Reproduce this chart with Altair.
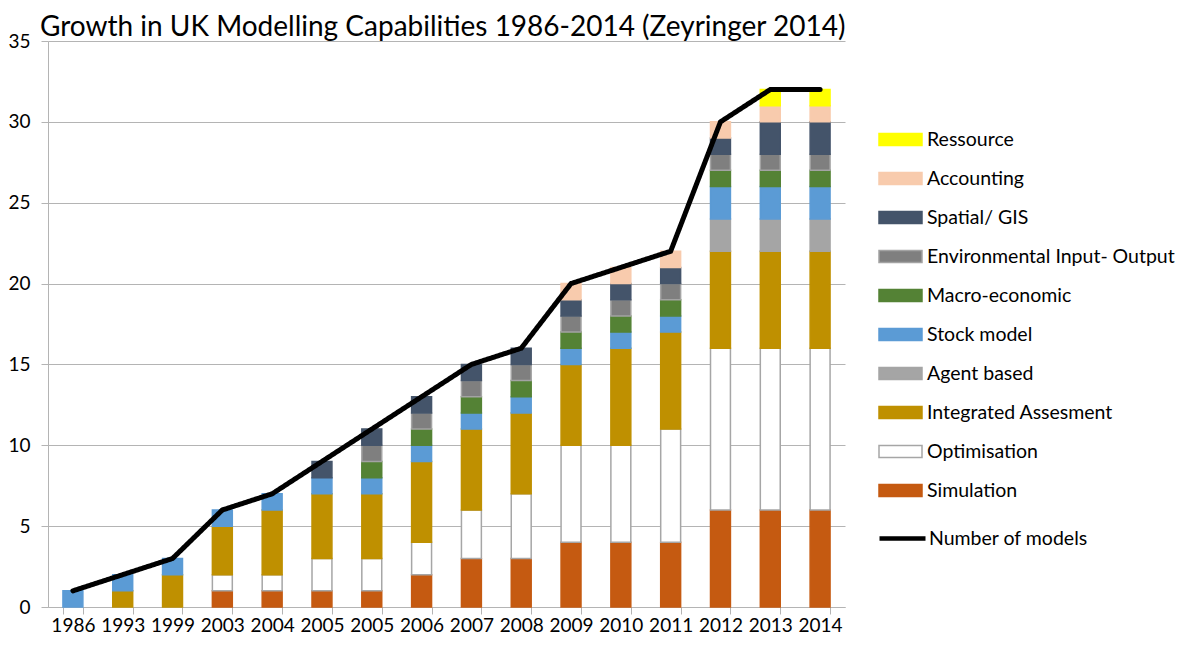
import altair as alt
import pandas as pd

TITLE = "Growth in UK Modelling Capabilities 1986-2014 (Zeyringer 2014)"

years = ["1986", "1993", "1999", "2003", "2004", "2005", "2005", "2006",
         "2007", "2008", "2009", "2010", "2011", "2012", "2013", "2014"]

# series, bottom of stack to top
simulation = [0, 0, 0, 1, 1, 1, 1, 2, 3, 3, 4, 4, 4, 6, 6, 6]
optimisation = [0, 0, 0, 1, 1, 2, 2, 2, 3, 4, 6, 6, 7, 10, 10, 10]
integrated = [0, 1, 2, 3, 4, 4, 4, 5, 5, 5, 5, 6, 6, 6, 6, 6]
agent_based = [0, 0, 0, 0, 0, 0, 0, 0, 0, 0, 0, 0, 0, 2, 2, 2]
stock_model = [1, 1, 1, 1, 1, 1, 1, 1, 1, 1, 1, 1, 1, 2, 2, 2]
macro_economic = [0, 0, 0, 0, 0, 0, 1, 1, 1, 1, 1, 1, 1, 1, 1, 1]
env_input_output = [0, 0, 0, 0, 0, 0, 1, 1, 1, 1, 1, 1, 1, 1, 1, 1]
spatial_gis = [0, 0, 0, 0, 0, 1, 1, 1, 1, 1, 1, 1, 1, 1, 2, 2]
accounting = [0, 0, 0, 0, 0, 0, 0, 0, 0, 0, 1, 1, 1, 1, 1, 1]
ressource = [0, 0, 0, 0, 0, 0, 0, 0, 0, 0, 0, 0, 0, 0, 1, 1]
number_of_models = [1, 2, 3, 6, 7, 9, 11, 13, 15, 16, 20, 21, 22, 30, 32, 32]

type_names = ["Simulation", "Optimisation", "Integrated Assesment", "Agent based",
              "Stock model", "Macro-economic", "Environmental Input- Output",
              "Spatial/ GIS", "Accounting", "Ressource"]
type_series = [simulation, optimisation, integrated, agent_based, stock_model,
               macro_economic, env_input_output, spatial_gis, accounting, ressource]
fill_colors = ["#C55A11", "#FFFFFF", "#BF9000", "#A5A5A5", "#5B9BD5",
               "#548235", "#7F7F7F", "#44546A", "#F8CBAD", "#FFFF00"]
stroke_colors = ["#C55A11", "#A6A6A6", "#BF9000", "#A5A5A5", "#5B9BD5",
                 "#548235", "#A3A3A3", "#44546A", "#F8CBAD", "#FFFF00"]

keys = [f"{y}#{i}" for i, y in enumerate(years)]

rows = []
for rank, (name, vals) in enumerate(zip(type_names, type_series)):
    for k, v in zip(keys, vals):
        if v > 0:
            rows.append({"key": k, "type": name, "rank": rank, "value": v})
bars_df = pd.DataFrame(rows)
line_df = pd.DataFrame({"key": keys, "models": number_of_models,
                        "series": "Number of models"})
title_df = pd.DataFrame({"title": [TITLE]})

legend_domain = type_names[::-1]
legend_fill = fill_colors[::-1]
legend_stroke = stroke_colors[::-1]

FONT = "Lato"
GRID = "#B4B4B4"

x_enc = alt.X(
    "key:N", sort=keys,
    scale=alt.Scale(paddingInner=0.6, paddingOuter=0.3),
    axis=alt.Axis(title=None, labelExpr="split(datum.label, '#')[0]", labelAngle=0,
                  tickBand="extent", tickSize=7, tickColor=GRID, domainColor=GRID,
                  labelPadding=2, labelFontSize=19, labelFont=FONT, labelColor="black",
                  grid=False),
)
y_enc = alt.Y(
    "value:Q", stack="zero",
    scale=alt.Scale(domain=[0, 35], nice=False),
    axis=alt.Axis(title=None, values=list(range(0, 36, 5)), tickSize=7, tickColor=GRID,
                  domainColor=GRID, gridColor=GRID, labelPadding=11, labelFontSize=19,
                  labelFont=FONT, labelColor="black"),
)

color_legend = alt.Legend(
    title=None, orient="none", legendX=830, legendY=76,
    symbolType="M-1,-0.28H1V0.28H-1Z", symbolSize=1849, symbolStrokeWidth=1.5,
    labelFont=FONT, labelFontSize=19.5, labelColor="black", labelOffset=4,
    labelLimit=400, rowPadding=7, padding=0,
)

bars = alt.Chart(bars_df).mark_bar(strokeWidth=1.5).encode(
    x=x_enc,
    y=y_enc,
    fill=alt.Fill("type:N", scale=alt.Scale(domain=legend_domain, range=legend_fill),
                  legend=color_legend),
    stroke=alt.Stroke("type:N", scale=alt.Scale(domain=legend_domain, range=legend_stroke),
                      legend=color_legend),
    order=alt.Order("rank:Q", sort="ascending"),
)

line = alt.Chart(line_df).mark_line(color="black", strokeWidth=5, strokeCap="round").encode(
    x=alt.X("key:N", sort=keys),
    y=alt.Y("models:Q"),
    strokeDash=alt.StrokeDash(
        "series:N", scale=alt.Scale(domain=["Number of models"], range=[[1, 0]]),
        legend=alt.Legend(title=None, orient="none", legendX=829, legendY=472,
                          symbolType="stroke", symbolSize=2116, symbolStrokeWidth=4.5,
                          symbolStrokeColor="black", labelFont=FONT, labelFontSize=19.5,
                          labelColor="black", labelOffset=1, labelLimit=400, padding=0)),
)

title = alt.Chart(title_df).mark_text(
    align="left", baseline="alphabetic", font=FONT, fontSize=28, color="black",
).encode(x=alt.value(-8), y=alt.value(-5), text="title:N")

chart = alt.layer(bars, line, title).properties(
    width=797, height=566,
    autosize=alt.AutoSizeParams(type="none"),
    padding={"left": 40, "top": 33, "right": 333, "bottom": 31},
).configure_view(stroke=None)

chart.save("out.html", embed_options={"renderer": "svg", "actions": False})
